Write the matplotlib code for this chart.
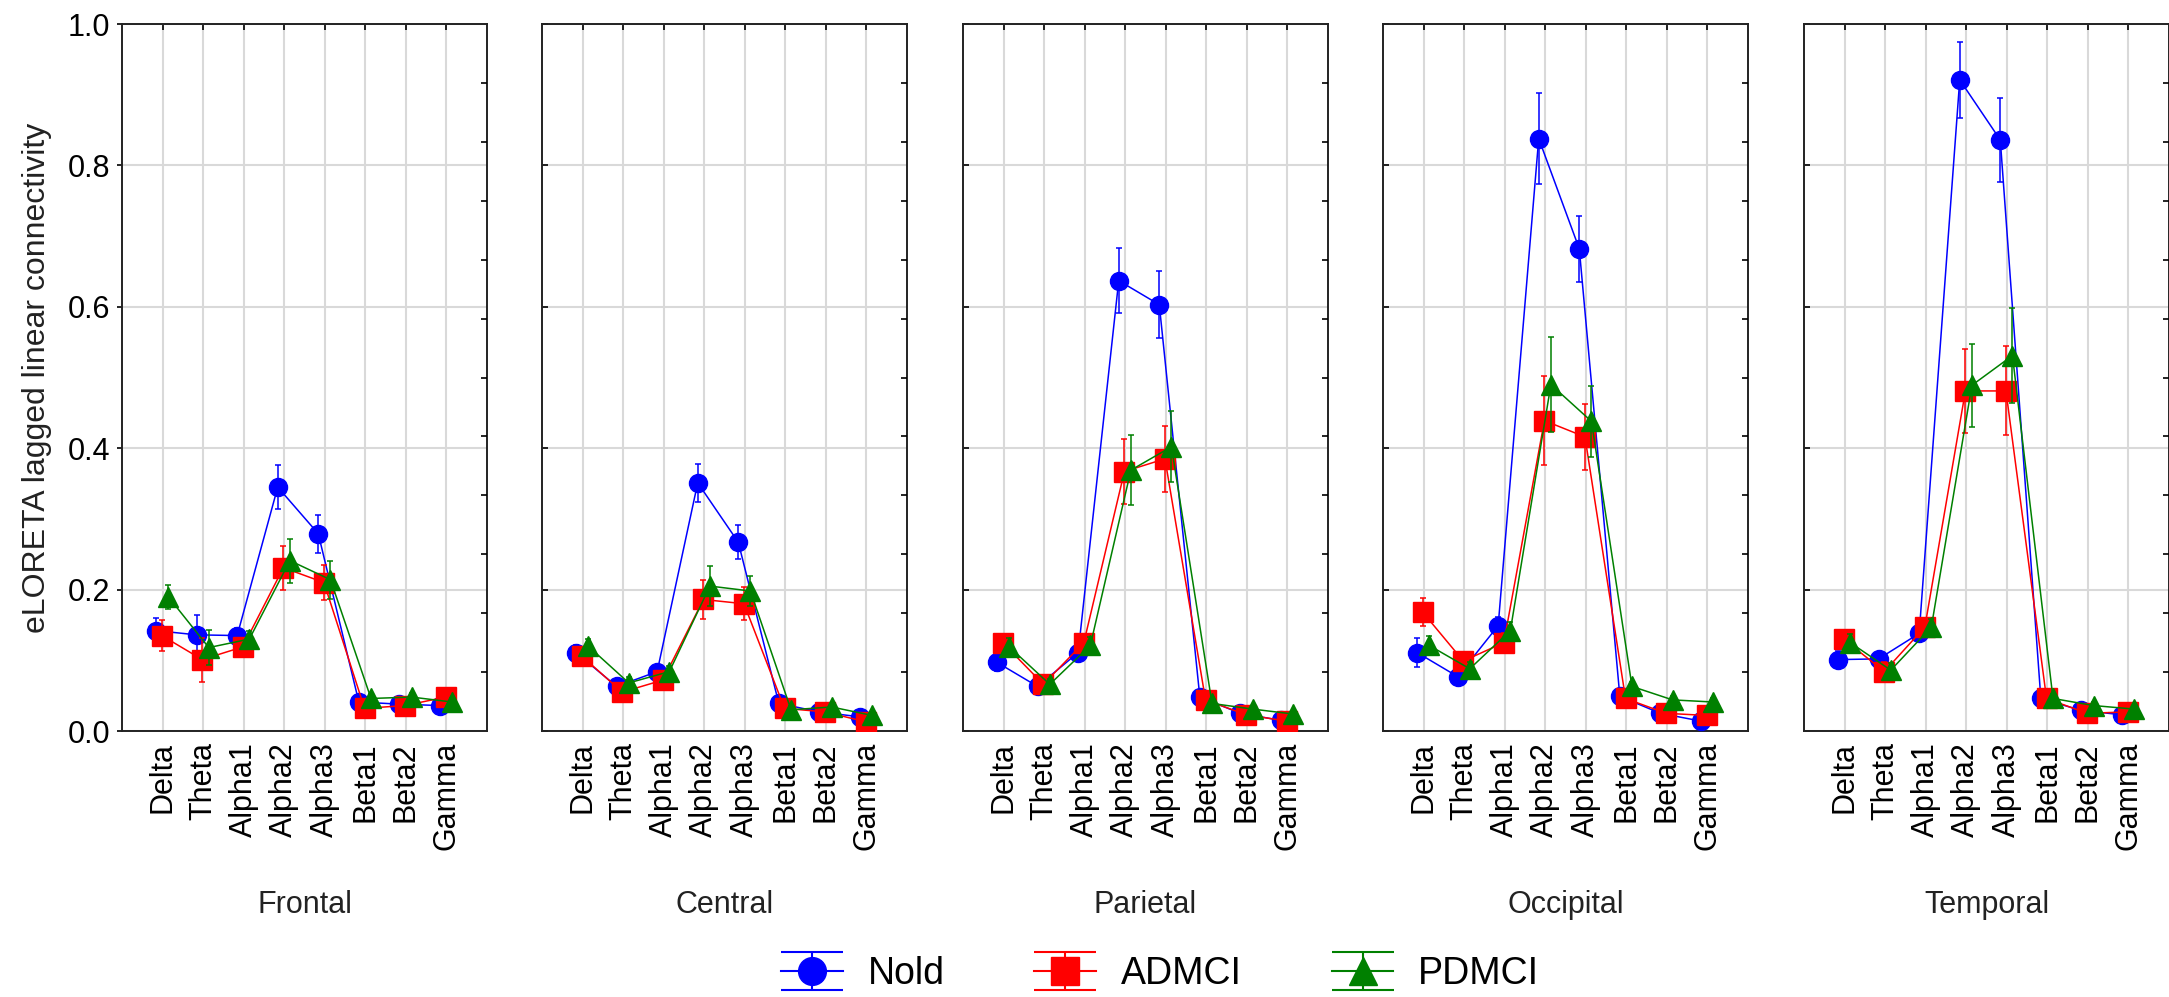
import numpy as np
import matplotlib
matplotlib.use('Agg')
import matplotlib.pyplot as plt

plt.rcParams['font.family'] = ['Liberation Sans', 'DejaVu Sans']

# Frequency bands and cortical regions
bands = ['Delta', 'Theta', 'Alpha1', 'Alpha2', 'Alpha3', 'Beta1', 'Beta2', 'Gamma']
regions = ['Frontal', 'Central', 'Parietal', 'Occipital', 'Temporal']
groups = ['Nold', 'ADMCI', 'PDMCI']

# Mean lagged linear connectivity, one row per region
nold = [
    [0.142, 0.136, 0.135, 0.345, 0.279, 0.041, 0.038, 0.036],
    [0.111, 0.063, 0.084, 0.351, 0.267, 0.039, 0.027, 0.020],
    [0.097, 0.063, 0.111, 0.637, 0.603, 0.048, 0.025, 0.015],
    [0.111, 0.077, 0.149, 0.838, 0.682, 0.049, 0.025, 0.014],
    [0.101, 0.102, 0.138, 0.921, 0.836, 0.046, 0.029, 0.023],
]
admci = [
    [0.135, 0.101, 0.119, 0.231, 0.210, 0.032, 0.036, 0.048],
    [0.106, 0.055, 0.072, 0.186, 0.180, 0.032, 0.027, 0.013],
    [0.125, 0.066, 0.125, 0.367, 0.385, 0.044, 0.023, 0.014],
    [0.168, 0.099, 0.125, 0.439, 0.416, 0.046, 0.025, 0.022],
    [0.130, 0.084, 0.147, 0.481, 0.481, 0.046, 0.025, 0.027],
]
pdmci = [
    [0.190, 0.118, 0.130, 0.241, 0.214, 0.046, 0.048, 0.041],
    [0.120, 0.068, 0.084, 0.205, 0.198, 0.030, 0.034, 0.022],
    [0.119, 0.066, 0.121, 0.369, 0.402, 0.039, 0.031, 0.024],
    [0.121, 0.088, 0.142, 0.490, 0.438, 0.063, 0.044, 0.041],
    [0.125, 0.086, 0.147, 0.489, 0.531, 0.046, 0.036, 0.031],
]

# Standard errors
nold_err = [
    [0.018, 0.028, 0.010, 0.031, 0.027, 0.006, 0.005, 0.005],
    [0.010, 0.008, 0.008, 0.027, 0.024, 0.005, 0.004, 0.004],
    [0.012, 0.008, 0.012, 0.046, 0.047, 0.006, 0.004, 0.004],
    [0.020, 0.010, 0.012, 0.065, 0.047, 0.006, 0.004, 0.004],
    [0.012, 0.010, 0.012, 0.054, 0.060, 0.006, 0.004, 0.004],
]
admci_err = [
    [0.022, 0.031, 0.013, 0.031, 0.025, 0.005, 0.005, 0.006],
    [0.010, 0.008, 0.009, 0.027, 0.023, 0.005, 0.004, 0.004],
    [0.012, 0.008, 0.012, 0.046, 0.047, 0.006, 0.004, 0.004],
    [0.020, 0.010, 0.014, 0.063, 0.047, 0.006, 0.004, 0.004],
    [0.012, 0.013, 0.012, 0.060, 0.063, 0.006, 0.004, 0.004],
]
pdmci_err = [
    [0.017, 0.025, 0.012, 0.031, 0.027, 0.006, 0.006, 0.005],
    [0.010, 0.008, 0.008, 0.028, 0.021, 0.005, 0.004, 0.004],
    [0.012, 0.008, 0.012, 0.049, 0.050, 0.006, 0.004, 0.004],
    [0.014, 0.010, 0.012, 0.067, 0.050, 0.007, 0.005, 0.005],
    [0.012, 0.010, 0.012, 0.059, 0.067, 0.006, 0.005, 0.005],
]

colors = ['#0000ff', '#ff0000', '#008000']
markers = ['o', 's', '^']
msizes = [13, 14, 15]
offsets = [-0.16, -0.02, 0.14]

W, H = 2169, 997
fig = plt.figure(figsize=(W / 100, H / 100), dpi=100)

x = np.arange(len(bands))
panel_left = [122, 542, 963, 1383, 1804]
panel_w = 365
top_px, bot_px = 24, 731

for i, region in enumerate(regions):
    ax = fig.add_axes([panel_left[i] / W, 1 - bot_px / H, panel_w / W, (bot_px - top_px) / H])
    series = [(nold[i], nold_err[i]), (admci[i], admci_err[i]), (pdmci[i], pdmci_err[i])]
    for k, (vals, errs) in enumerate(series):
        ax.errorbar(x + offsets[k], vals, yerr=errs, color=colors[k], marker=markers[k],
                    markersize=msizes[k], linewidth=1.1, elinewidth=1.1, capsize=2.2,
                    capthick=1.1, zorder=3 + k)
    ax.set_xlim(-1, 8)
    ax.set_ylim(0, 1)
    ax.set_xticks(x)
    ax.set_xticklabels(bands, rotation=90, fontsize=22)
    ax.set_yticks(np.arange(0, 1.01, 0.2))
    ax.grid(True, color='#d9d9d9', linewidth=1.5, zorder=0)
    ax.set_axisbelow(True)
    for s in ax.spines.values():
        s.set_linewidth(1.4)
        s.set_color('#222222')
    ax.tick_params(axis='x', bottom=False, top=True, direction='in', length=4,
                   width=1.2, pad=8, labelbottom=True)
    if i == 0:
        ax.set_yticklabels(['0.0', '0.2', '0.4', '0.6', '0.8', '1.0'], fontsize=22)
        ax.tick_params(axis='y', direction='out', length=3.5, width=1.2, pad=5)
    else:
        ax.tick_params(axis='y', direction='in', length=4, width=1.2, labelleft=False)
    # finer ticks along the right edge
    ax2 = ax.twinx()
    ax2.set_ylim(0, 1)
    ax2.set_yticks(np.arange(1, 12) / 12)
    ax2.tick_params(axis='y', direction='in', length=4, width=1.2, labelright=False)
    for s in ax2.spines.values():
        s.set_visible(False)
    fig.text((panel_left[i] + panel_w / 2) / W, 1 - 905 / H, region,
             ha='center', va='center', fontsize=22, color='#222222')

fig.text(37 / W, 1 - 378 / H, 'eLORETA lagged linear connectivity', rotation=90,
         ha='center', va='center', fontsize=23, color='#222222')

# legend proxies with wide caps, drawn on an axes placed outside the figure
lax = fig.add_axes([-1, -1, 0.01, 0.01])
lax.set_axis_off()
handles = []
for k in range(3):
    h = lax.errorbar([0], [0], yerr=[1], color=colors[k], marker=markers[k],
                     markersize=20, linewidth=1.5, elinewidth=1.5, capsize=22, capthick=1.5)
    handles.append(h)
fig.legend(handles, groups, loc='center', bbox_to_anchor=(1160 / W, 1 - 974 / H),
           ncol=3, frameon=False, fontsize=27, handlelength=1.65, handletextpad=0.65,
           columnspacing=2.4)

fig.savefig('out.png', dpi=100)
